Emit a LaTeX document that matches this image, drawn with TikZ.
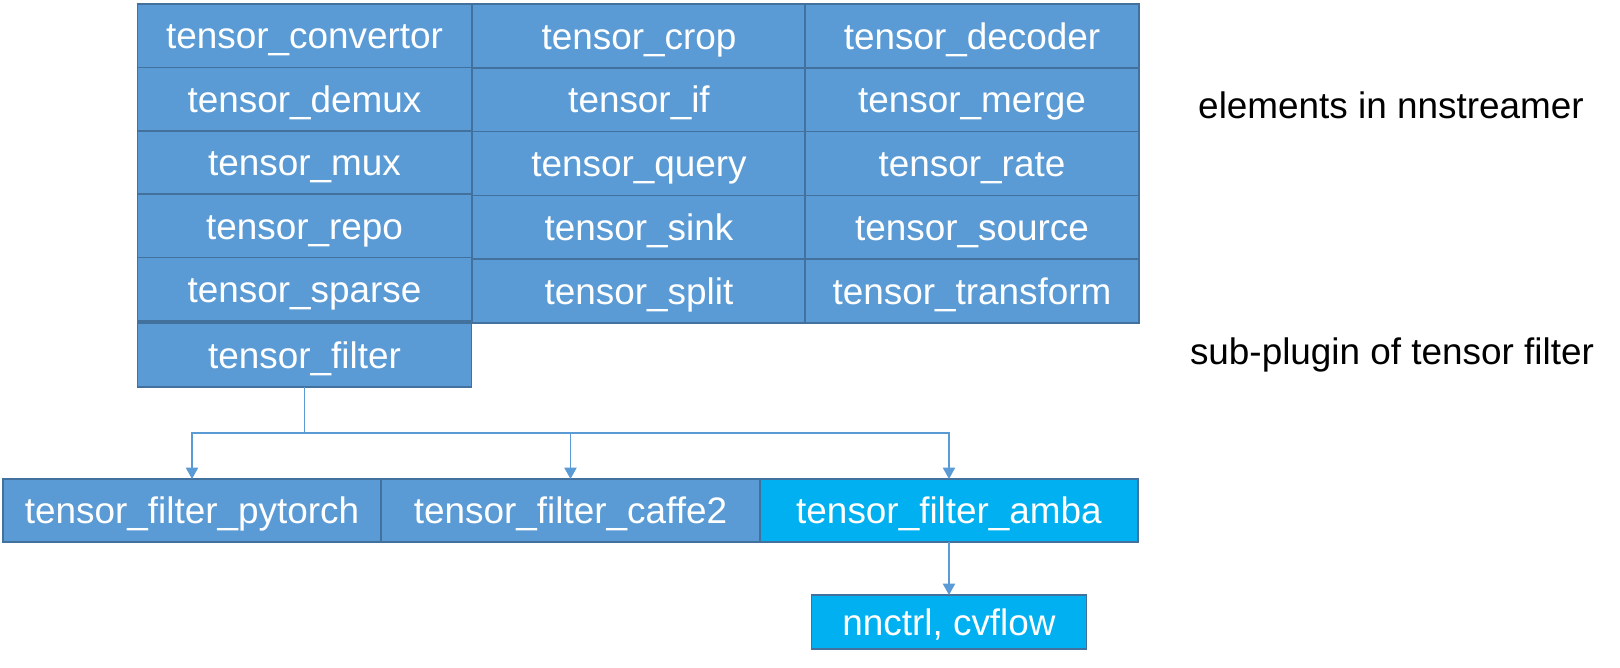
\documentclass[tikz,border=0pt]{standalone}
\usepackage{fontspec}
\setmainfont{Liberation Sans}
\usetikzlibrary{arrows.meta}
\definecolor{cellblue}{RGB}{91,155,213}
\definecolor{cellline}{RGB}{65,113,156}
\definecolor{ambablue}{RGB}{0,176,240}

\begin{document}
\begin{tikzpicture}[x=0.02cm, y=-0.02cm,
	cell/.style={draw=cellline, line width=1pt, fill=cellblue, text=white, font=\fontsize{21pt}{25pt}\selectfont, text height=15.1pt, text depth=0pt, inner sep=0pt, outer sep=0pt, minimum width=6.68cm, minimum height=1.276cm},
	note/.style={font=\fontsize{21pt}{25pt}\selectfont, text height=15.1pt, text depth=0pt, inner sep=0pt},
	link/.style={draw=cellblue, line width=0.75pt},
	pfeil/.style={link, -{Triangle[width=7pt, length=6.5pt]}}]
	\useasboundingbox (0,0) rectangle (1620,667); % weisser Rand um Grafik
	
	% linke Spalte
	\node[cell, minimum height=1.268cm] (convertor) at (304.5,35.7) {tensor\_convertor};
	\node[cell, minimum height=1.268cm] (demux) at (304.5,99.1) {tensor\_demux};
	\node[cell, minimum height=1.268cm] (mux) at (304.5,162.5) {tensor\_mux};
	\node[cell, minimum height=1.268cm] (repo) at (304.5,225.9) {tensor\_repo};
	\node[cell, minimum height=1.268cm] (sparse) at (304.5,289.3) {tensor\_sparse};
	\node[cell, minimum height=1.28cm] (filter) at (304.5,355) {tensor\_filter};
	
	% mittlere Spalte
	\node[cell] (crop) at (639,35.9) {tensor\_crop};
	\node[cell] (if) at (639,99.7) {tensor\_if};
	\node[cell] (query) at (639,163.5) {tensor\_query};
	\node[cell] (sink) at (639,227.3) {tensor\_sink};
	\node[cell] (split) at (639,291.1) {tensor\_split};
	
	% rechte Spalte
	\node[cell] (decoder) at (972,35.9) {tensor\_decoder};
	\node[cell] (merge) at (972,99.7) {tensor\_merge};
	\node[cell] (rate) at (972,163.5) {tensor\_rate};
	\node[cell] (source) at (972,227.3) {tensor\_source};
	\node[cell] (transform) at (972,291.1) {tensor\_transform};
	
	\node[note] (elements) at (1391,105) {elements in nnstreamer};
	\node[note] (subplugin) at (1392,351.5) {sub-plugin of tensor filter};
	
	% Sub-Plugins
	\node[cell, minimum width=7.56cm, minimum height=1.26cm] (pytorch) at (192,510.5) {tensor\_filter\_pytorch};
	\node[cell, minimum width=7.58cm, minimum height=1.26cm] (caffe2) at (570.5,510.5) {tensor\_filter\_caffe2};
	\node[cell, fill=ambablue, minimum width=7.56cm, minimum height=1.26cm] (amba) at (949,510.5) {tensor\_filter\_amba};
	\node[cell, fill=ambablue, minimum width=5.5cm, minimum height=1.08cm] (nnctrl) at (949,622) {nnctrl, cvflow};
	
	% Pfeile
	\coordinate (branch) at (filter.south |- 0,433);
	\draw[link] (filter.south) -- (branch);
	\draw[pfeil] (branch) -| (pytorch.north);
	\draw[pfeil] (branch) -| (caffe2.north);
	\draw[pfeil] (branch) -| (amba.north);
	\draw[pfeil] (amba.south) -- (nnctrl.north);
\end{tikzpicture}
\end{document}
